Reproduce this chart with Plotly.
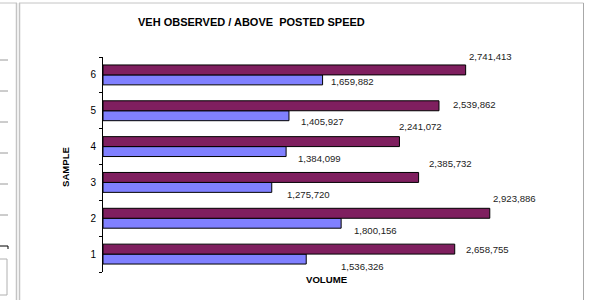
import plotly.graph_objects as go

samples = ["1", "2", "3", "4", "5", "6"]
observed = [1536326, 1800156, 1275720, 1384099, 1405927, 1659882]
above_posted = [2658755, 2923886, 2385732, 2241072, 2539862, 2741413]

title_text = "VEH OBSERVED / ABOVE  POSTED SPEED"
y_title = "SAMPLE"
x_title = "VOLUME"

# label offsets in pixels (xshift, y offset downward) - presentation only
obs_off = [(34, 12), (12, 12), (14, 12), (11, 12), (11, 11), (7, 7)]
abv_off = [(10, -5), (2, -20), (9, -19), (-1, -20), (13, -6), (2, -18)]

W, H = 604, 300
L, R, T, B = 103, 566, 57, 272

def px(x, y):
    return (x - L) / (R - L), (B - y) / (B - T)

blue = "#8080FF"
plum = "#7F1F5F"

fig = go.Figure()
fig.add_trace(go.Bar(y=samples, x=observed, orientation="h", name="observed",
                     marker=dict(color=blue, line=dict(color="#000000", width=1))))
fig.add_trace(go.Bar(y=samples, x=above_posted, orientation="h", name="above",
                     marker=dict(color=plum, line=dict(color="#000000", width=1))))

fnt = dict(family="Liberation Sans, Arial, sans-serif", size=9.6, color="#222222")
ann = []
for i, (v, (dx, dy)) in enumerate(zip(observed, obs_off)):
    ann.append(dict(x=v, y=i, xref="x", yref="y", text=f"{v:,}", showarrow=False,
                    xanchor="left", yanchor="middle", xshift=dx - 1, yshift=-dy, font=fnt))
for i, (v, (dx, dy)) in enumerate(zip(above_posted, abv_off)):
    ann.append(dict(x=v, y=i, xref="x", yref="y", text=f"{v:,}", showarrow=False,
                    xanchor="left", yanchor="middle", xshift=dx - 1, yshift=-dy, font=fnt))

bold = dict(family="Liberation Sans, Arial, sans-serif", size=11, color="#000000")
tx, ty = px(251, 22)
ann.append(dict(x=tx, y=ty, xref="paper", yref="paper", text=f"<b>{title_text}</b>",
                showarrow=False, xanchor="center", yanchor="middle", font=bold))
sx, sy = px(65, 167)
ann.append(dict(x=sx, y=sy, xref="paper", yref="paper", text=f"<b>{y_title}</b>",
                showarrow=False, textangle=-90, xanchor="center", yanchor="middle",
                font=dict(bold, size=9.6)))
vx, vy = px(327, 279)
ann.append(dict(x=vx, y=vy, xref="paper", yref="paper", text=f"<b>{x_title}</b>",
                showarrow=False, xanchor="center", yanchor="middle",
                font=dict(bold, size=9.6)))

shapes = []
def line(x0, y0, x1, y1, color, width=1):
    a, b = px(x0, y0)
    c, d = px(x1, y1)
    shapes.append(dict(type="line", xref="paper", yref="paper", x0=a, y0=b, x1=c, y1=d,
                       line=dict(color=color, width=width)))

g = "#c4c4c4"
line(0, 3, 17, 3, g)
line(16.5, 3, 16.5, 300, g, 1.5)
line(19.5, 3, 19.5, 300, g, 1.5)
line(19, 3, 583.5, 3, g)
line(583.5, 3, 583.5, 300, "#a8a8a8")
for yy in [60, 91, 122, 153, 184, 215]:
    line(0, yy, 8, yy, "#9a9a9a")
line(0, 246, 8, 246, "#000000")
line(8, 246, 8, 249, "#000000")
line(0, 259, 7, 259, "#b0b0b0")
line(7, 259, 7, 295, "#b0b0b0")
line(0, 295, 7, 295, "#b0b0b0")

fig.update_layout(
    width=W, height=H,
    margin=dict(l=L, r=W - R, t=T, b=H - B),
    paper_bgcolor="white", plot_bgcolor="white",
    barmode="group", bargap=16 / 36, bargroupgap=0,
    showlegend=False,
    annotations=ann, shapes=shapes,
    xaxis=dict(range=[0, 3500000], showticklabels=False, showgrid=False,
               zeroline=False, showline=False, ticks=""),
    yaxis=dict(type="category", categoryorder="array", categoryarray=samples,
               range=[-0.5, 5.5], showline=True, linecolor="#000000", linewidth=1,
               ticks="outside", tickson="boundaries", ticklen=3, tickcolor="#000000",
               ticklabelstandoff=4,
               showgrid=False, zeroline=False,
               tickfont=dict(family="Liberation Sans, Arial, sans-serif", size=10, color="#000000")),
)

fig.write_html("out.html", config={"displayModeBar": False},
               post_script="document.body.style.margin='0';document.body.style.overflow='hidden';")
